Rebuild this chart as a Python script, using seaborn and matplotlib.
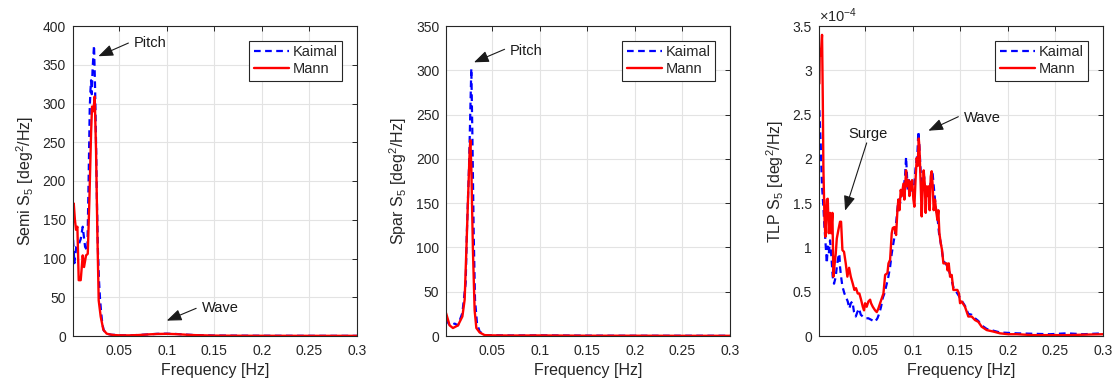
import numpy as np
import pandas as pd
import matplotlib
matplotlib.use("Agg")
import matplotlib.pyplot as plt
import seaborn as sns

# ---------------- data ----------------
semi_f_kaimal = [0.0017, 0.0031, 0.0050, 0.0076, 0.0097, 0.0118, 0.0143, 0.0167, 0.0180, 0.0192,
                 0.0200, 0.0206, 0.0213, 0.0222, 0.0237, 0.0248, 0.0258, 0.0268, 0.0278, 0.0290,
                 0.0300, 0.0312, 0.0325, 0.0340, 0.0370, 0.0420, 0.0450, 0.05, 0.06, 0.07, 0.08,
                 0.09, 0.10, 0.11, 0.12, 0.13, 0.15, 0.18, 0.21, 0.25, 0.30]
semi_kaimal = [124, 94, 115, 118, 125, 141, 115, 110, 200, 295,
               318, 330, 312, 345, 375, 320, 250, 170, 110, 70,
               48, 30, 15, 7, 3, 1.5, 1.5, 1.0, 0.8, 1.3, 2.0,
               2.8, 3.0, 2.6, 1.8, 1.2, 0.6, 0.4, 0.3, 0.25, 0.2]
semi_f_mann = [0.0017, 0.0024, 0.0036, 0.0048, 0.0062, 0.0076, 0.0097, 0.0118, 0.0132, 0.0153,
               0.0171, 0.0188, 0.0206, 0.0216, 0.0230, 0.0244, 0.0258, 0.0272, 0.0286, 0.0307,
               0.0335, 0.0370, 0.0405, 0.045, 0.05, 0.06, 0.07, 0.08, 0.09, 0.10, 0.11, 0.12,
               0.13, 0.15, 0.18, 0.21, 0.25, 0.30]
semi_mann = [154, 171, 150, 137, 141, 72, 72, 104, 89, 104,
             106, 175, 262, 296, 290, 309, 240, 133, 46, 25,
             8, 3, 2, 1.2, 0.9, 0.8, 1.2, 2.0, 2.6, 2.8, 2.4, 1.7,
             1.1, 0.5, 0.3, 0.25, 0.2, 0.2]

spar_f_kaimal = [0.0013, 0.0051, 0.0104, 0.0139, 0.0185, 0.0220, 0.0232, 0.0255, 0.0269, 0.0279,
                 0.0290, 0.0304, 0.0318, 0.0339, 0.0367, 0.0419, 0.05, 0.07, 0.10, 0.15, 0.20,
                 0.25, 0.30]
spar_kaimal = [19, 12, 14, 12, 26, 60, 116, 191, 255, 302,
               229, 116, 41, 14, 5, 1, 0.8, 0.6, 0.7, 0.4, 0.3,
               0.3, 0.3]
spar_f_mann = [0.0013, 0.0051, 0.0086, 0.0139, 0.0185, 0.0209, 0.0227, 0.0244, 0.0262, 0.0269,
               0.0279, 0.0296, 0.0314, 0.0332, 0.0367, 0.0419, 0.05, 0.07, 0.10, 0.15, 0.20,
               0.25, 0.30]
spar_mann = [26, 12, 9, 12, 22, 41, 97, 153, 210, 221,
             191, 97, 29, 9, 4, 1, 0.7, 0.5, 0.6, 0.3, 0.3,
             0.2, 0.2]

# TLP values in units of 1e-4 deg^2/Hz
tlp_f_kaimal = [0.0020, 0.0027, 0.0035, 0.0041, 0.0048, 0.0062, 0.0073, 0.0083, 0.0098, 0.0108,
                0.0119, 0.0132, 0.0146, 0.0160, 0.0174, 0.0192, 0.0203, 0.0220, 0.0230, 0.0237,
                0.0248, 0.0262, 0.0283, 0.0300, 0.0318, 0.0335, 0.0350, 0.0367, 0.0384, 0.0402,
                0.0419, 0.0437, 0.0455, 0.0476, 0.0500, 0.0535, 0.0570, 0.0605, 0.0630, 0.0651,
                0.0668, 0.0686, 0.0703, 0.0728, 0.0745, 0.0763, 0.0780, 0.0798, 0.0815, 0.0833,
                0.0850, 0.0868, 0.0885, 0.0903, 0.0920, 0.0931, 0.0938, 0.0948, 0.0962, 0.0980,
                0.0997, 0.1015, 0.1032, 0.1050, 0.1060, 0.1071, 0.1085, 0.1102, 0.1120, 0.1137,
                0.1155, 0.1176, 0.1190, 0.1207, 0.1225, 0.1242, 0.1260, 0.1277, 0.1295, 0.1323,
                0.1358, 0.1393, 0.1428, 0.1470, 0.1515, 0.1550, 0.1585, 0.1620, 0.1655, 0.1690,
                0.1725, 0.1778, 0.1848, 0.1918, 0.2005, 0.2093, 0.2268, 0.2443, 0.2618, 0.2793,
                0.3000]
tlp_kaimal_e4 = [2.55, 2.36, 2.14, 1.91, 1.69, 1.46, 1.23, 1.08, 0.82, 1.01,
                 0.93, 1.08, 0.90, 0.67, 0.59, 0.67, 0.78, 0.90, 0.93, 0.78,
                 0.67, 0.56, 0.48, 0.44, 0.39, 0.31, 0.37, 0.39, 0.27, 0.22,
                 0.27, 0.31, 0.24, 0.22, 0.20, 0.20, 0.18, 0.16, 0.20, 0.26,
                 0.33, 0.43, 0.48, 0.59, 0.67, 0.78, 0.93, 1.05, 1.16, 1.35,
                 1.54, 1.50, 1.61, 1.65, 1.80, 2.02, 1.87, 1.65, 1.76, 1.61,
                 1.72, 1.69, 1.91, 2.06, 2.31, 2.14, 1.84, 1.65, 1.80, 1.58,
                 1.69, 1.61, 1.76, 1.87, 1.65, 1.46, 1.35, 1.16, 1.05, 0.85,
                 0.80, 0.70, 0.55, 0.48, 0.40, 0.34, 0.25, 0.24, 0.20, 0.17,
                 0.12, 0.08, 0.06, 0.04, 0.035, 0.03, 0.025, 0.02, 0.03, 0.02,
                 0.03]
tlp_f_mann = [0.0020, 0.0024, 0.0035, 0.0048, 0.0056, 0.0062, 0.0073, 0.0083, 0.0098, 0.0108,
              0.0119, 0.0132, 0.0143, 0.0157, 0.0167, 0.0178, 0.0192, 0.0203, 0.0220, 0.0237,
              0.0248, 0.0262, 0.0279, 0.0297, 0.0314, 0.0332, 0.0350, 0.0371, 0.0388, 0.0405,
              0.0423, 0.0440, 0.0458, 0.0476, 0.0489, 0.0500, 0.0517, 0.0535, 0.0553, 0.0563,
              0.0581, 0.0605, 0.0623, 0.0640, 0.0658, 0.0693, 0.0711, 0.0735, 0.0746, 0.0763,
              0.0780, 0.0791, 0.0808, 0.0826, 0.0840, 0.0850, 0.0861, 0.0875, 0.0885, 0.0903,
              0.0913, 0.0931, 0.0938, 0.0955, 0.0966, 0.0973, 0.0983, 0.0994, 0.1008, 0.1018,
              0.1032, 0.1043, 0.1053, 0.1064, 0.1071, 0.1078, 0.1085, 0.1095, 0.1106, 0.1116,
              0.1127, 0.1137, 0.1148, 0.1158, 0.1169, 0.1179, 0.1190, 0.1200, 0.1211, 0.1221,
              0.1235, 0.1246, 0.1260, 0.1270, 0.1281, 0.1295, 0.1309, 0.1323, 0.1340, 0.1358,
              0.1368, 0.1379, 0.1393, 0.1410, 0.1428, 0.1445, 0.1470, 0.1487, 0.1498, 0.1515,
              0.1550, 0.1585, 0.1620, 0.1655, 0.1690, 0.1725, 0.1778, 0.1848, 0.1918, 0.2005,
              0.2093, 0.2268, 0.2443, 0.2618, 0.2793, 0.3000]
tlp_mann_e4 = [2.85, 3.23, 3.17, 3.40, 2.66, 1.91, 1.35, 1.12, 1.54, 1.55,
               1.16, 1.39, 1.16, 1.39, 0.67, 0.79, 0.93, 1.10, 1.20, 1.29,
               1.29, 0.97, 0.95, 0.82, 0.67, 0.77, 0.67, 0.59, 0.52, 0.54,
               0.48, 0.48, 0.41, 0.33, 0.29, 0.37, 0.33, 0.39, 0.41, 0.37,
               0.33, 0.29, 0.27, 0.31, 0.37, 0.48, 0.69, 0.71, 0.82, 0.86,
               1.16, 1.22, 1.23, 1.14, 1.42, 1.54, 1.42, 1.65, 1.58, 1.72,
               1.54, 1.87, 1.69, 1.76, 1.58, 1.74, 1.65, 1.76, 1.54, 1.46,
               1.80, 2.01, 1.92, 2.23, 2.14, 1.92, 1.69, 1.35, 1.69, 1.87,
               1.72, 1.39, 1.69, 1.58, 1.69, 1.42, 1.80, 1.86, 1.69, 1.42,
               1.54, 1.42, 1.31, 1.42, 1.16, 1.05, 0.97, 0.82, 0.82, 0.82,
               0.74, 0.82, 0.67, 0.69, 0.52, 0.52, 0.52, 0.48, 0.37, 0.39,
               0.33, 0.22, 0.22, 0.18, 0.16, 0.105, 0.067, 0.05, 0.03, 0.02,
               0.02, 0.01, 0.01, 0.01, 0.015, 0.02]

x_ticks = [0.05, 0.10, 0.15, 0.20, 0.25, 0.30]
x_ticklabels = ["0.05", "0.1", "0.15", "0.2", "0.25", "0.3"]
semi_yticks = [0, 50, 100, 150, 200, 250, 300, 350, 400]
spar_yticks = [0, 50, 100, 150, 200, 250, 300, 350]
tlp_yticks_e4 = [0, 0.5, 1, 1.5, 2, 2.5, 3, 3.5]
tlp_yticklabels = ["0", "0.5", "1", "1.5", "2", "2.5", "3", "3.5"]
series_names = ["Kaimal", "Mann"]

# ---------------- style ----------------
sns.set_theme(style="whitegrid")
plt.rcParams["font.family"] = ["Liberation Sans", "DejaVu Sans"]
plt.rcParams["mathtext.default"] = "regular"
TXT = "#262626"

fig = plt.figure(figsize=(11.18, 3.89), dpi=100)
W, H = 1118, 389
rects = [(73, 284), (446.3, 283.7), (819, 284)]
axes = [fig.add_axes([l / W, 53 / H, w / W, 310 / H]) for l, w in rects]


def draw(ax, fk, vk, fm, vm, ylim, yticks, yticklabels, ylabel):
    sns.lineplot(x=np.asarray(fk), y=np.asarray(vk), ax=ax, color="#0000ff", linewidth=1.6,
                 linestyle=(0, (3, 2)), estimator=None, sort=False, label=series_names[0])
    sns.lineplot(x=np.asarray(fm), y=np.asarray(vm), ax=ax, color="#ff0000", linewidth=1.7,
                 estimator=None, sort=False, label=series_names[1])
    ax.set_xlim(0.0016, 0.3)
    ax.set_ylim(*ylim)
    ax.set_xticks(x_ticks)
    ax.set_xticklabels(x_ticklabels)
    ax.set_yticks(yticks)
    ax.set_yticklabels(yticklabels)
    ax.grid(True, color="#e3e3e3", linewidth=0.8)
    for s in ax.spines.values():
        s.set_visible(True)
        s.set_color(TXT)
        s.set_linewidth(0.8)
    ax.tick_params(axis="both", direction="in", top=True, right=True, length=3.5,
                   width=0.7, colors=TXT, labelsize=10, labelcolor=TXT)
    ax.tick_params(axis="x", pad=6)
    ax.tick_params(axis="y", pad=5)
    ax.set_xlabel("Frequency [Hz]", fontsize=11.5, color=TXT, labelpad=3)
    ax.set_ylabel(ylabel, fontsize=11.5, color=TXT, labelpad=5)
    leg = ax.legend(loc="upper right", bbox_to_anchor=(0.946, 0.953), borderaxespad=0,
                    fontsize=10.5, frameon=True, fancybox=False, framealpha=1,
                    edgecolor=TXT, borderpad=0.3, handlelength=2.4, handletextpad=0.25,
                    labelspacing=0.23)
    leg.get_frame().set_linewidth(0.8)
    for t in leg.get_texts():
        t.set_color(TXT)


def arrow(ax, head, tail):
    ax.annotate("", xy=head, xytext=tail,
                arrowprops=dict(arrowstyle="-|>,head_length=0.9,head_width=0.35",
                                color="k", lw=0.8, shrinkA=0, shrinkB=0,
                                mutation_scale=10))


ax1, ax2, ax3 = axes
draw(ax1, semi_f_kaimal, semi_kaimal, semi_f_mann, semi_mann, (0, 400),
     semi_yticks, [str(v) for v in semi_yticks], "Semi S$_5$ [deg$^2$/Hz]")
draw(ax2, spar_f_kaimal, spar_kaimal, spar_f_mann, spar_mann, (0, 350),
     spar_yticks, [str(v) for v in spar_yticks], "Spar S$_5$ [deg$^2$/Hz]")
draw(ax3, tlp_f_kaimal, np.asarray(tlp_kaimal_e4) * 1e-4, tlp_f_mann,
     np.asarray(tlp_mann_e4) * 1e-4, (0, 3.5e-4),
     [v * 1e-4 for v in tlp_yticks_e4], tlp_yticklabels, "TLP S$_5$ [deg$^2$/Hz]")

ann_fs = 10.5
# Semi
arrow(ax1, (0.0283, 361), (0.0598, 378))
ax1.text(0.0658, 378, "Pitch", ha="left", va="center", fontsize=ann_fs, color="k")
arrow(ax1, (0.1001, 19.8), (0.131, 35.7))
ax1.text(0.1368, 35.7, "Wave", ha="left", va="center", fontsize=ann_fs, color="k")
# Spar
arrow(ax2, (0.0307, 309), (0.0629, 323.7))
ax2.text(0.0682, 322, "Pitch", ha="left", va="center", fontsize=ann_fs, color="k")
# TLP
arrow(ax3, (0.1165, 2.318e-4), (0.148, 2.476e-4))
ax3.text(0.154, 2.458e-4, "Wave", ha="left", va="center", fontsize=ann_fs, color="k")
arrow(ax3, (0.029, 1.415e-4), (0.0517, 2.18e-4))
ax3.text(0.0535, 2.28e-4, "Surge", ha="center", va="center", fontsize=ann_fs, color="k")
ax3.text(0.0, 1.012, r"$\times$10$^{-4}$", transform=ax3.transAxes, ha="left",
         va="baseline", fontsize=10.5, color=TXT)

fig.savefig("out.png", dpi=100)
